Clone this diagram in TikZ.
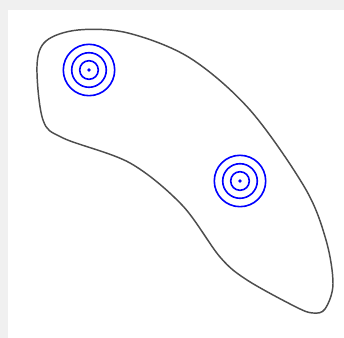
\documentclass[tikz,border=0pt]{standalone}
\usepackage{tikz}
\definecolor{pagegray}{HTML}{F0F0F0}
\definecolor{outline}{HTML}{4D4D4D}

\begin{document}
\begin{tikzpicture}[x=0.75pt, y=-0.75pt,
      blob/.style={draw=outline, line width=1.1pt},
      ring/.style={draw=blue, line width=1.2pt},
      hub/.style={fill=blue}
    ]
    \fill[pagegray] (0,0) rectangle (344,338);
    \fill[white] (8,10) rectangle (344,338);
    \useasboundingbox (0,0) rectangle (344,338);
    % outline of the region
    \draw[blob] plot[smooth cycle, tension=0.55] coordinates {
        (37,66) (46,41) (78,30) (128,33) (190,58) (250,110)
        (305,188) (326,240) (333,284) (325,309) (313,313) (296,307)
        (247,280) (220,257) (182,205) (130,163) (63,138) (43,120)};
    % two targets
    \coordinate (tl) at (89,70);
    \coordinate (br) at (240,181);
    \foreach \c in {tl, br} {
      \foreach \r in {9.3, 17.3, 25.7}
        \draw[ring] (\c) circle (\r);
      \fill[hub] (\c) circle (1.8);
    }
  \end{tikzpicture}
\end{document}
